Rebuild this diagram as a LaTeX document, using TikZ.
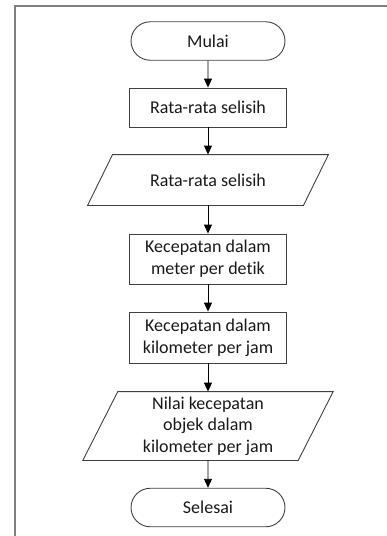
\documentclass[tikz,border=0pt]{standalone}
\usepackage{fontspec}
\setmainfont{Carlito}[Ligatures={NoCommon,NoContextual}]
\usetikzlibrary{arrows.meta,shapes.misc}
\begin{document}
\begin{tikzpicture}[x=1pt,y=-1pt,
  box/.style={draw=black!75, line width=0.9pt, align=center, inner sep=0pt,
    text=black!90, font=\fontsize{18}{21.7}\selectfont},
  term/.style={box, rounded rectangle, minimum width=154pt, minimum height=38.5pt},
  proc/.style={box, rectangle, minimum width=157.5pt},
  io/.style={box, draw=none, rectangle},
  pshape/.style={draw=black!75, line width=0.9pt},
  flow/.style={-{Triangle[length=9pt,width=8pt]}, line width=0.9pt, black}]
\useasboundingbox (0,0) rectangle (387,536);

% page frame
\draw[black!50, line width=1.6pt] (387,6) -- (15,6) -- (15,536);

% start / end
\node[term] (start) at (208,41) {Mulai};
\node[term] (stop) at (208,507.5) {Selesai};

% process steps
\node[proc, minimum height=39pt] (avg) at (208,107.5) {Rata-rata selisih};
\node[proc, minimum height=50pt] (mps) at (208,259) {Kecepatan dalam\\meter per detik};
\node[proc, minimum height=51pt] (kmh) at (208,337.5) {Kecepatan dalam\\kilometer per jam};

% input / output blocks
\node[io, minimum width=215pt, minimum height=50pt] (in1) at (208,180) {Rata-rata selisih};
\draw[pshape] ([xshift=12.5pt]in1.north west) -- ([xshift=12.5pt]in1.north east)
  -- ([xshift=-12.5pt]in1.south east) -- ([xshift=-12.5pt]in1.south west) -- cycle;

\node[io, minimum width=214.5pt, minimum height=68pt] (out) at (208,426) {Nilai kecepatan\\objek dalam\\kilometer per jam};
\draw[pshape] ([xshift=17.5pt]out.north west) -- ([xshift=17.5pt]out.north east)
  -- ([xshift=-17.5pt]out.south east) -- ([xshift=-17.5pt]out.south west) -- cycle;

% flow
\draw[flow] (start) -- (avg);
\draw[flow] (avg) -- (in1);
\draw[flow] (in1) -- (mps);
\draw[flow] (mps) -- (kmh);
\draw[flow] (kmh) -- (out);
\draw[flow] (out) -- (stop);
\end{tikzpicture}
\end{document}
